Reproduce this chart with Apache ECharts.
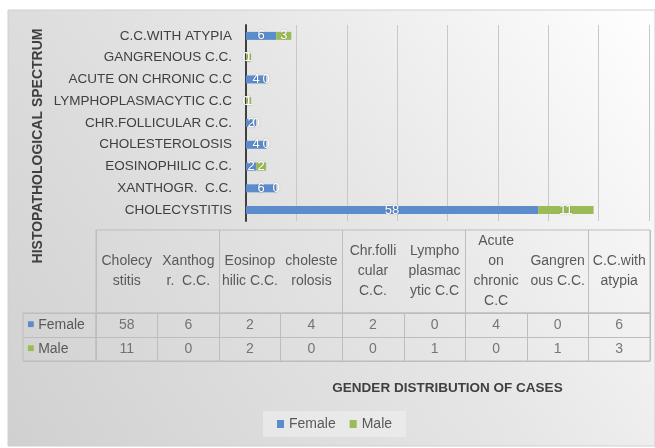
<!DOCTYPE html>
<html>
<head>
<meta charset="utf-8">
<script src="https://cdn.jsdelivr.net/npm/echarts@6/dist/echarts.min.js"></script>
<style>
  html, body { margin: 0; padding: 0; background: #fff; }
  #main { width: 655px; height: 448px; }
</style>
</head>
<body>
<div id="main"></div>
<script>
// categories as shown on the bar axis (bottom to top)
const categories = ['CHOLECYSTITIS', 'XANTHOGR.  C.C.', 'EOSINOPHILIC C.C.', 'CHOLESTEROLOSIS',
  'CHR.FOLLICULAR C.C.', 'LYMPHOPLASMACYTIC C.C', 'ACUTE ON CHRONIC C.C', 'GANGRENOUS C.C.', 'C.C.WITH ATYPIA'];
// same categories as written in the data table header
const tableHeaders = ['Cholecy\nstitis', 'Xanthog\nr.  C.C.', 'Eosinop\nhilic C.C.', 'choleste\nrolosis',
  'Chr.folli\ncular\nC.C.', 'Lympho\nplasmac\nytic C.C', 'Acute\non\nchronic\nC.C', 'Gangren\nous C.C.', 'C.C.with\natypia'];
const female = [58, 6, 2, 4, 2, 0, 4, 0, 6];
const male = [11, 0, 2, 0, 0, 1, 0, 1, 3];
const seriesNames = ['Female', 'Male'];

const BLUE = '#5b8ccb';
const GREEN = '#9bbb59';
const FONT = 'Liberation Sans';
const LINE = '#bdbdbd';

const chart = echarts.init(document.getElementById('main'));

const tableRows = [female, male];
const cellData = [];
tableRows.forEach((row, r) => row.forEach((v, c) => cellData.push([c, r, v])));

const barLabel = {
  show: true,
  position: 'inside',
  color: '#fff',
  fontSize: 13,
  fontFamily: FONT,
  textShadowColor: 'rgba(0,0,0,0.25)',
  textShadowBlur: 2
};

chart.setOption({
  backgroundColor: '#fff',
  textStyle: { fontFamily: FONT },
  graphic: [
    {
      type: 'rect', z: -10, silent: true,
      shape: { x: 8, y: 10, width: 647, height: 436 },
      style: {
        fill: new echarts.graphic.LinearGradient(0, 1, 1, 0, [
          { offset: 0, color: '#d0d0d0' },
          { offset: 0.55, color: '#e6e6e6' },
          { offset: 1, color: '#ffffff' }
        ]),
        stroke: '#d0d0d0', lineWidth: 1
      }
    },
    {
      type: 'text', silent: true,
      x: 38, y: 146, rotation: Math.PI / 2,
      style: {
        text: 'HISTOPATHOLOGICAL SPECTRUM',
        align: 'center', verticalAlign: 'middle',
        fill: '#404040', font: 'bold 14px "Liberation Sans"'
      }
    }
  ],
  legend: {
    data: seriesNames,
    left: 263, top: 411,
    padding: [6, 14],
    backgroundColor: 'rgba(240,240,240,0.6)',
    icon: 'rect', itemWidth: 7, itemHeight: 8, itemGap: 14,
    textStyle: { color: '#595959', fontSize: 14, fontFamily: FONT }
  },
  grid: [
    { left: 246, right: 6, top: 25, height: 196 },
    { left: 96, right: 5, top: 230, height: 83, show: true, borderColor: LINE, borderWidth: 1 },
    { left: 96, right: 5, top: 313, height: 48, show: true, borderColor: LINE, borderWidth: 1 },
    { left: 23, width: 73, top: 313, height: 48, show: true, borderColor: LINE, borderWidth: 1 }
  ],
  xAxis: [
    {
      type: 'value', gridIndex: 0, min: 0, max: 80, interval: 10,
      axisLabel: { show: false }, axisLine: { show: false }, axisTick: { show: false },
      splitLine: { lineStyle: { color: '#c8c8c8' } },
      name: 'GENDER DISTRIBUTION OF CASES', nameLocation: 'middle', nameGap: 160,
      nameTextStyle: { color: '#404040', fontWeight: 'bold', fontSize: 13.5, fontFamily: FONT }
    },
    {
      type: 'category', gridIndex: 1, data: tableHeaders,
      axisLabel: { show: false }, axisLine: { show: false }, axisTick: { show: false },
      splitLine: { show: true, lineStyle: { color: LINE } }
    },
    {
      type: 'category', gridIndex: 2, data: tableHeaders, position: 'top',
      axisLine: { show: false }, axisTick: { show: false },
      splitLine: { show: true, lineStyle: { color: LINE } },
      axisLabel: {
        interval: 0, margin: 42, verticalAlign: 'middle', align: 'center',
        color: '#595959', fontSize: 14, lineHeight: 20, fontFamily: FONT
      }
    },
    { type: 'category', gridIndex: 3, data: [''], show: false }
  ],
  yAxis: [
    {
      type: 'category', gridIndex: 0, data: categories,
      axisTick: { show: false },
      axisLine: { lineStyle: { color: '#404040', width: 2 } },
      axisLabel: { color: '#404040', fontSize: 13.5, margin: 14, fontFamily: FONT }
    },
    { type: 'value', gridIndex: 1, show: false },
    {
      type: 'category', gridIndex: 2, data: seriesNames, inverse: true,
      axisLine: { show: false }, axisTick: { show: false },
      splitLine: { show: true, lineStyle: { color: LINE } },
      axisLabel: {
        align: 'left', margin: 69, fontSize: 14, color: '#595959', fontFamily: FONT,
        formatter: (v) => (v === 'Female' ? '{f|■}' : '{m|■}') + ' ' + v,
        rich: {
          f: { color: BLUE, fontSize: 12 },
          m: { color: GREEN, fontSize: 12 }
        }
      }
    },
    {
      type: 'category', gridIndex: 3, data: seriesNames, inverse: true,
      axisLine: { show: false }, axisTick: { show: false }, axisLabel: { show: false },
      splitLine: { show: true, lineStyle: { color: LINE } }
    }
  ],
  series: [
    {
      name: 'Female', type: 'bar', stack: 'g', xAxisIndex: 0, yAxisIndex: 0,
      data: female, barWidth: 8, itemStyle: { color: BLUE }, label: barLabel
    },
    {
      name: 'Male', type: 'bar', stack: 'g', xAxisIndex: 0, yAxisIndex: 0,
      data: male, barWidth: 8, itemStyle: { color: GREEN }, label: barLabel
    },
    {
      name: 'table', type: 'scatter', xAxisIndex: 2, yAxisIndex: 2,
      data: cellData, symbolSize: 0, silent: true,
      label: {
        show: true, position: 'inside', color: '#595959', fontSize: 14, fontFamily: FONT,
        formatter: (p) => p.data[2]
      }
    }
  ]
});
</script>
</body>
</html>
